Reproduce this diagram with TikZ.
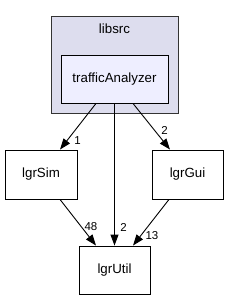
\documentclass[tikz,border=0pt]{standalone}
\usepackage{fontspec}
\setmainfont{Liberation Sans}
\usetikzlibrary{arrows.meta}
\definecolor{clusterfill}{HTML}{DDDDEE}
\definecolor{dirfill}{HTML}{EEEEFF}

\begin{document}
\begin{tikzpicture}[x=1pt, y=-1pt,
    dirbox/.style={draw, line width=0.9pt, minimum width=72pt, minimum height=49pt,
        inner sep=0pt, font=\fontsize{13.3}{15}\selectfont},
    dep/.style={-{Triangle[length=11pt,width=8pt]}, line width=0.9pt},
    num/.style={inner sep=0pt, font=\fontsize{11.5}{13}\selectfont}]
\useasboundingbox (0,0) rectangle (229,300);
% cluster
\node[draw=black!80, fill=clusterfill, line width=0.9pt, minimum width=127pt, minimum height=97pt] (libsrc) at (114.5,64.5) {};
\node[font=\fontsize{13.3}{15}\selectfont] (libsrclabel) at (114.5,29) {libsrc};
% directories
\node[dirbox, fill=dirfill, minimum width=107pt, minimum height=48pt] (ta) at (114.5,79) {trafficAnalyzer};
\node[dirbox] (sim) at (41,174.5) {lgrSim};
\node[dirbox, minimum width=71pt] (gui) at (187.5,174.5) {lgrGui};
\node[dirbox, minimum width=71pt, minimum height=48pt] (util) at (114.5,270) {lgrUtil};
% dependencies
\draw[dep] ([xshift=-18.5pt]ta.south) -- ([xshift=19pt]sim.north);
\draw[dep] ([xshift=18.5pt]ta.south) -- ([xshift=-17.5pt]gui.north);
\draw[dep] (ta.south) -- (util.north);
\draw[dep] ([xshift=19pt]sim.south) -- ([xshift=-18.5pt]util.north);
\draw[dep] ([xshift=-18.5pt]gui.south) -- ([xshift=18.5pt]util.north);
\node[num] (n1) at (77.5,141) {1};
\node[num] (n2) at (164.5,130) {2};
\node[num] (n3) at (123.5,227) {2};
\node[num] (n4) at (91,227) {48};
\node[num] (n5) at (152,236) {13};
\end{tikzpicture}
\end{document}
